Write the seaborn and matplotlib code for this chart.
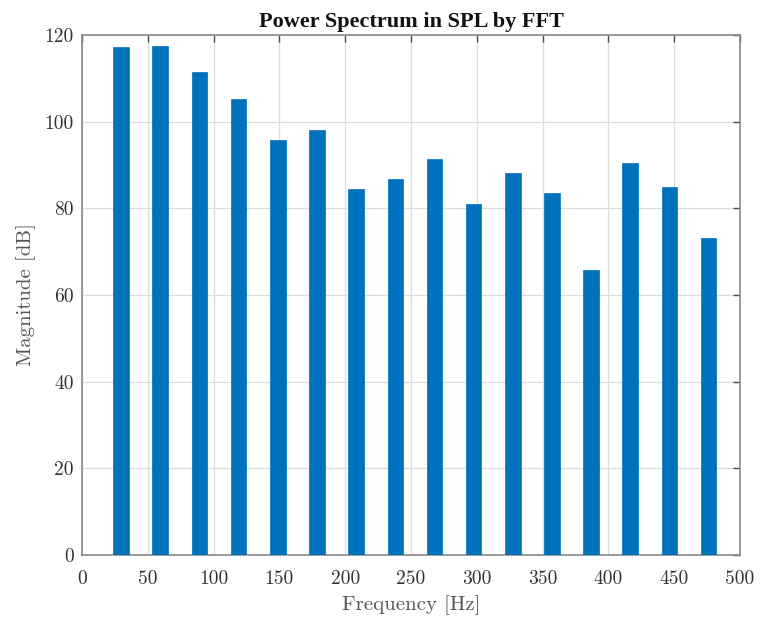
import matplotlib
matplotlib.use("Agg")
import matplotlib.pyplot as plt
import seaborn as sns
import pandas as pd

# FFT bin frequencies (Hz) and their sound pressure levels (dB)
freq_hz = [29.8, 59.5, 89.3, 119.0, 148.8, 178.6, 208.3, 238.1,
           267.8, 297.6, 327.4, 357.1, 386.9, 416.6, 446.4, 476.1]
spl_db = [117.3, 117.5, 111.4, 105.2, 95.8, 98.1, 84.5, 86.8,
          91.5, 81.1, 88.2, 83.6, 65.8, 90.5, 84.9, 73.2]

x_ticks = [0, 50, 100, 150, 200, 250, 300, 350, 400, 450, 500]
y_ticks = [0, 20, 40, 60, 80, 100, 120]

df = pd.DataFrame({"Frequency": freq_hz, "Magnitude": spl_db})

sns.set_theme(style="white")
plt.rcParams["font.family"] = ["cmr10", "DejaVu Serif"]
plt.rcParams["axes.formatter.use_mathtext"] = True

fig = plt.figure(figsize=(7.61, 6.2), dpi=100)
ax = fig.add_axes([82 / 761, 1 - 555 / 620, (740 - 82) / 761, (555 - 35) / 620])

sns.barplot(data=df, x="Frequency", y="Magnitude", native_scale=True,
            width=0.4, color="#0072BD", saturation=1, edgecolor="#0072BD",
            linewidth=0.5, ax=ax, zorder=3)

ax.set_xlim(0, 500)
ax.set_ylim(0, 120)
ax.set_xticks(x_ticks)
ax.set_yticks(y_ticks)
ax.set_xticklabels([str(v) for v in x_ticks])
ax.set_yticklabels([str(v) for v in y_ticks])

ax.grid(True, color="#dcdcdc", linewidth=0.9, zorder=0)
ax.set_axisbelow(True)

for s in ax.spines.values():
    s.set_visible(True)
    s.set_color("#8a8a8a")
    s.set_linewidth(1.2)

ax.tick_params(axis="both", which="major", direction="in", length=5,
               width=1.0, color="#4a4a4a", top=True, right=True,
               labelsize=14, labelcolor="#333333")
ax.tick_params(axis="x", pad=11)
ax.tick_params(axis="y", pad=6)

ax.set_xlabel("Frequency [Hz]", fontsize=15, color="#555555", labelpad=5)
ax.set_ylabel("Magnitude [dB]", fontsize=15, color="#555555", labelpad=6)
ax.set_title("Power Spectrum in SPL by FFT", fontsize=16, fontweight="bold",
             family="Liberation Serif", color="#111111", pad=6)

fig.savefig("out.png", dpi=100)
